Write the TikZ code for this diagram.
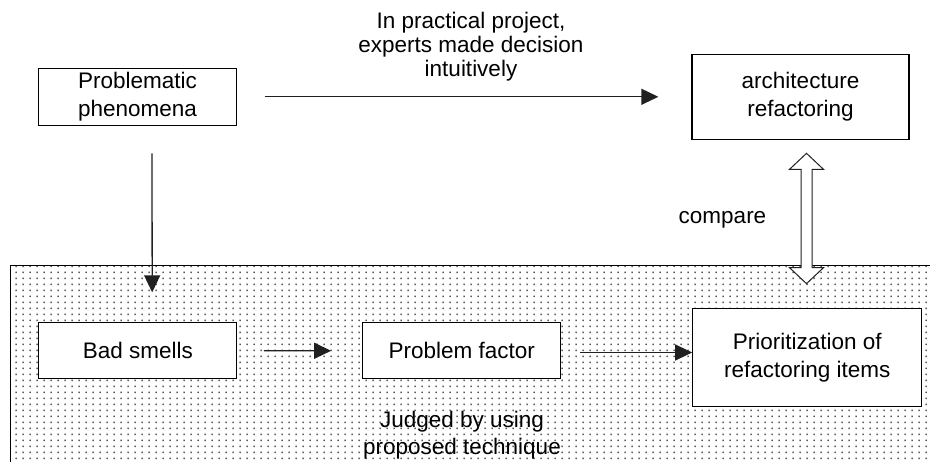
\documentclass[tikz,border=0pt]{standalone}
\usepackage{fontspec}
\setmainfont{Liberation Sans}
\usetikzlibrary{arrows.meta, calc, patterns.meta}

\definecolor{dotgray}{HTML}{5A5A5A}
\definecolor{linegray}{HTML}{202020}

% sparse dot raster used for the analysis area
\tikzdeclarepattern{
  name=fieldDots,
  type=uncolored,
  bottom left={(0pt,0pt)},
  top right={(6.7pt,5.6pt)},
  tile size={(6.7pt,5.6pt)},
  code={\fill (2.6pt,2.0pt) rectangle (4.1pt,3.5pt);}
}

\tikzset{
  every node/.style={font=\fontsize{22.5}{27.5}\selectfont},
  box/.style={draw=black, fill=white, line width=1.3pt, inner sep=0pt,
              align=center, minimum width=198pt, minimum height=57pt},
  flow/.style={draw=linegray, line width=1.3pt,
               -{Triangle[length=17pt, width=16pt]}},
  note/.style={align=center, inner sep=0pt},
}

\begin{document}
\begin{tikzpicture}[x=1pt, y=1pt]
  \useasboundingbox (0,0) rectangle (930,461);
  \fill[white] (0,0) rectangle (930,461);

  % analysis area with dotted fill
  \fill[pattern=fieldDots, pattern color=dotgray] (10,0) rectangle (930,195.3);
  \draw[line width=1pt, black] (10,-2) -- (10,195.3) -- (932,195.3);

  % boxes
  \node[box] (prob) at (137.6,364.2) {Problematic\\phenomena};
  \node[box, minimum width=217pt, minimum height=85pt] (arch) at (800.5,364.2)
        {architecture\\refactoring};
  \node[box, minimum height=56pt] (bad) at (137.8,110.3) {Bad smells};
  \node[box, minimum height=56pt] (pf) at (461.8,110.2) {Problem factor};
  \node[box, minimum width=229pt, minimum height=98.4pt] (prior) at (807.3,103.5)
        {Prioritization of\\refactoring items};

  % flow arrows
  \draw[flow] ([xshift=27.3pt]prob.east) -- ([xshift=-33pt]arch.west);
  \draw[flow] ([shift={(14.4pt,-27.5pt)}]prob.south) -- ([shift={(14.4pt,29.7pt)}]bad.north);
  \draw[flow] ([xshift=26.3pt]bad.east) -- ([xshift=-31pt]pf.west);
  \draw[flow] ([shift={(19pt,-1.7pt)}]pf.east) -- ([yshift=5pt]prior.west);

  % hollow double arrow between the two refactoring boxes
  \coordinate (ct) at ($(prior.north |- arch.south)+(-0.8,-13.4)$);
  \draw[linegray, line width=1pt, fill=white, line join=miter]
    (ct) -- ++(17,-16) -- ++(-11.5,0) -- ++(0,-98.3) -- ++(11.5,0)
         -- ++(-17,-16) coordinate (cb)
         -- ++(-17,16) -- ++(11.5,0) -- ++(0,98.3) -- ++(-11.5,0) -- cycle;

  % labels
  \node[note, font=\fontsize{22.5}{24}\selectfont] (lblTop) at (471,414.5)
        {In practical project,\\experts made decision\\intuitively};
  \node[note, anchor=base] (lblCmp) at (722.5,237) {compare};
  \node[note, anchor=base] (lblJudge) at (462,34) {Judged by using};
  \node[note, anchor=base] (lblTech) at (462,6) {proposed technique};
\end{tikzpicture}
\end{document}
